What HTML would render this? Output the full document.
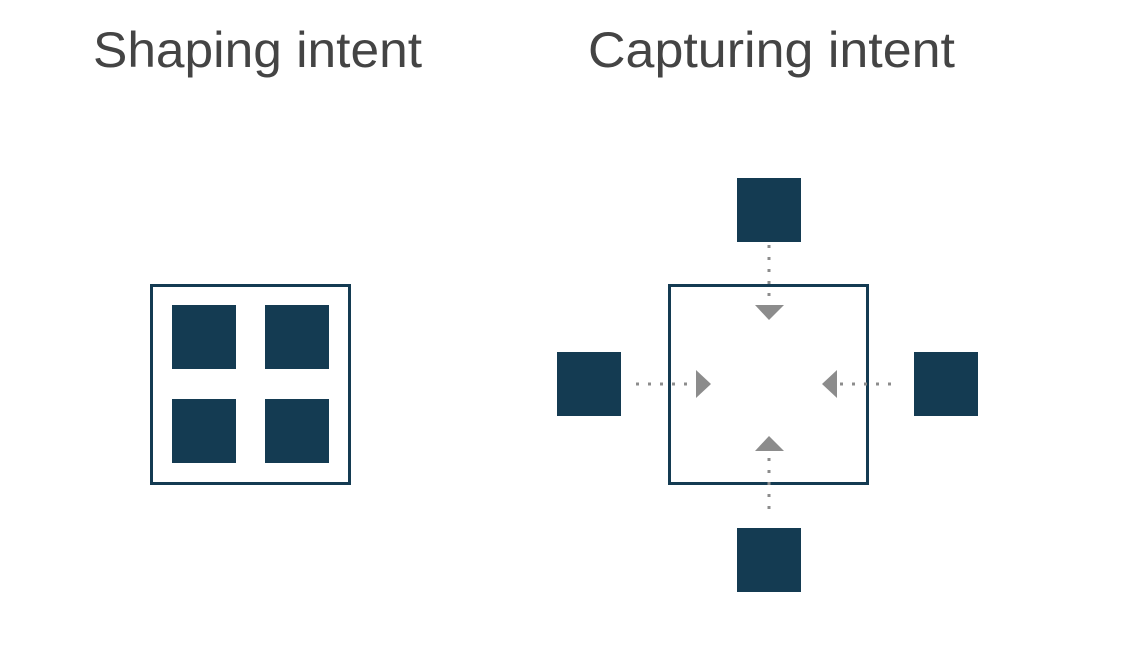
<!DOCTYPE html>
<html><head><style>html,body{margin:0;padding:0;background:#fff;}</style></head>
<body>
<svg width="1123" height="644" xmlns="http://www.w3.org/2000/svg">
<g font-family="Liberation Sans, sans-serif" font-size="50" fill="#444">
<text x="93" y="67" textLength="329" lengthAdjust="spacingAndGlyphs">Shaping intent</text>
<text x="588" y="67" textLength="367" lengthAdjust="spacingAndGlyphs">Capturing intent</text>
</g>
<g fill="none" stroke="#143b52" stroke-width="3">
<rect x="151.5" y="285.5" width="198" height="198"/>
<rect x="669.5" y="285.5" width="198" height="198"/>
</g>
<g fill="#143b52">
<rect x="172" y="305" width="64" height="64"/>
<rect x="265" y="305" width="64" height="64"/>
<rect x="172" y="399" width="64" height="64"/>
<rect x="265" y="399" width="64" height="64"/>
<rect x="737" y="178" width="64" height="64"/>
<rect x="557" y="352" width="64" height="64"/>
<rect x="914" y="352" width="64" height="64"/>
<rect x="737" y="528" width="64" height="64"/>
</g>
<g stroke="#8c8c8c" stroke-width="3" stroke-dasharray="3 9">
<line x1="769" y1="245" x2="769" y2="302"/>
<line x1="769" y1="458" x2="769" y2="515"/>
<line x1="636" y1="384" x2="695" y2="384"/>
<line x1="840" y1="384" x2="900" y2="384"/>
</g>
<g fill="#8c8c8c">
<polygon points="755,305 784,305 769,320"/>
<polygon points="755,451 784,451 769,436"/>
<polygon points="696,370 696,398 711,384"/>
<polygon points="837,370 837,398 822,384"/>
</g>
</svg>
</body></html>
